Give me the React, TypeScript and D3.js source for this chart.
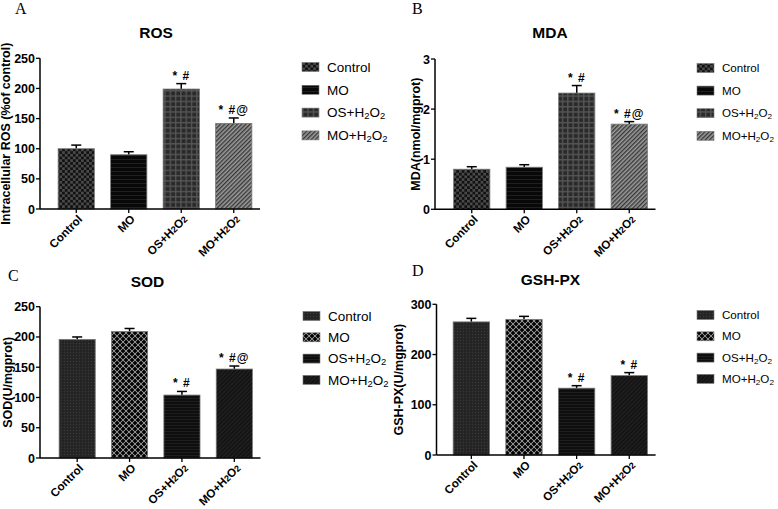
import React from "react";
import * as d3 from "d3";

const categories = ["Control", "MO", "OS+H2O2", "MO+H2O2"];

const rosValues = [100, 90, 199, 142];
const rosErrors = [6, 5, 9, 9];
const rosTicks = [0, 50, 100, 150, 200, 250];

const mdaValues = [0.8, 0.84, 2.32, 1.7];
const mdaErrors = [0.05, 0.05, 0.15, 0.05];
const mdaTicks = [0, 1, 2, 3];

const sodValues = [196, 209, 104, 147];
const sodErrors = [4, 5, 6, 5];
const sodTicks = [0, 50, 100, 150, 200, 250];

const gshValues = [265, 270, 133, 158];
const gshErrors = [7, 6, 5, 6];
const gshTicks = [0, 100, 200, 300];

const sigTop = ["", "", "* #", "* #@"];
const sigGsh = ["", "", "* #", "* #"];

const patternsTop = ["chk", "hlineA", "grid", "hatch"];
const patternsBottom = ["dots", "cross", "hlineB", "diagB"];

const SANS = "'Liberation Sans', Arial, sans-serif";

type Panel = {
  letter: string;
  title: string;
  ylabel: string;
  values: number[];
  errors: number[];
  ticks: number[];
  sig: string[];
  patterns: string[];
  axisX: number;
  xRange: [number, number];
  y0: number;
  yTop: number;
  titleX: number;
  titleY: number;
  letterX: number;
  letterY: number;
  ylabelX: number;
  legendX: number;
  legendY: number;
  legendStep: number;
  legendFont: number;
};

const panels: Panel[] = [
  {
    letter: "A", title: "ROS", ylabel: "Intracellular ROS (%of control)",
    values: rosValues, errors: rosErrors, ticks: rosTicks, sig: sigTop, patterns: patternsTop,
    axisX: 40, xRange: [50, 260], y0: 209, yTop: 58.3,
    titleX: 156, titleY: 38, letterX: 15, letterY: 14, ylabelX: 10,
    legendX: 302, legendY: 67, legendStep: 22.8, legendFont: 13.5,
  },
  {
    letter: "B", title: "MDA", ylabel: "MDA(nmol/mgprot)",
    values: mdaValues, errors: mdaErrors, ticks: mdaTicks, sig: sigTop, patterns: patternsTop,
    axisX: 435, xRange: [445.5, 655.5], y0: 209.3, yTop: 59,
    titleX: 550, titleY: 38, letterX: 412, letterY: 14, ylabelX: 420,
    legendX: 697, legendY: 68, legendStep: 22.6, legendFont: 11.6,
  },
  {
    letter: "C", title: "SOD", ylabel: "SOD(U/mgprot)",
    values: sodValues, errors: sodErrors, ticks: sodTicks, sig: sigTop, patterns: patternsBottom,
    axisX: 40, xRange: [51, 260.5], y0: 458, yTop: 306.7,
    titleX: 147.5, titleY: 287, letterX: 8, letterY: 281, ylabelX: 12,
    legendX: 303, legendY: 316, legendStep: 21.3, legendFont: 13.5,
  },
  {
    letter: "D", title: "GSH-PX", ylabel: "GSH-PX(U/mgprot)",
    values: gshValues, errors: gshErrors, ticks: gshTicks, sig: sigGsh, patterns: patternsBottom,
    axisX: 436.5, xRange: [445, 655.6], y0: 455, yTop: 304.3,
    titleX: 550.5, titleY: 285, letterX: 412, letterY: 276, ylabelX: 403,
    legendX: 697, legendY: 315, legendStep: 21.3, legendFont: 11.6,
  },
];

function CatLabel({ name, small }: { name: string; small: boolean }) {
  const m = name.match(/^(.*)\+H2O2$/);
  if (!m) return <>{name}</>;
  const sub = small ? { fontSize: "0.7em", baselineShift: "-25%" } : { fontSize: "0.78em" };
  return (
    <>
      {m[1]}+H
      <tspan style={sub as any}>2</tspan>
      O
      <tspan style={sub as any}>2</tspan>
    </>
  );
}

function PanelView({ p }: { p: Panel }) {
  const x = d3.scaleBand<string>().domain(categories).range(p.xRange).paddingInner(0.31).paddingOuter(0.155);
  const maxT = p.ticks[p.ticks.length - 1];
  const y = d3.scaleLinear().domain([0, maxT]).range([p.y0, p.yTop]);
  const bw = x.bandwidth();
  const fmt = (v: number) => String(v);
  return (
    <g>
      <text x={p.letterX} y={p.letterY} fontFamily="'Liberation Serif', serif" fontSize={16}>
        {p.letter}
      </text>
      <text x={p.titleX} y={p.titleY} textAnchor="middle" fontFamily={SANS} fontWeight="bold" fontSize={15.5}>
        {p.title}
      </text>
      <text
        transform={`translate(${p.ylabelX},${(p.y0 + p.yTop) / 2}) rotate(-90)`}
        textAnchor="middle"
        fontFamily={SANS}
        fontWeight="bold"
        fontSize={12.5}
      >
        {p.ylabel}
      </text>
      {categories.map((c, i) => {
        const bx = x(c)!;
        const top = y(p.values[i]);
        const ey = y(p.values[i] + p.errors[i]);
        const cx = bx + bw / 2;
        return (
          <g key={c}>
            <line x1={cx} x2={cx} y1={top} y2={ey} stroke="#000" strokeWidth={1.5} />
            <line x1={cx - 5} x2={cx + 5} y1={ey} y2={ey} stroke="#000" strokeWidth={1.5} />
            <rect x={bx} y={top} width={bw} height={p.y0 - top} fill={`url(#${p.patterns[i]})`} stroke="#777" strokeWidth={0.8} />
            {p.sig[i] && (
              <text x={cx} y={ey - 4} textAnchor="middle" fontFamily={SANS} fontWeight="bold" fontSize={12} letterSpacing={1}>
                {p.sig[i]}
              </text>
            )}
            <line x1={cx} x2={cx} y1={p.y0} y2={p.y0 + 4} stroke="#000" strokeWidth={1.3} />
            <text
              transform={`translate(${cx + 4},${p.y0 + 8}) rotate(-45)`}
              textAnchor="end"
              dy="0.35em"
              fontFamily={SANS}
              fontWeight="bold"
              fontSize={11.6}
            >
              <CatLabel name={c} small={false} />
            </text>
          </g>
        );
      })}
      <line x1={p.axisX} x2={p.axisX} y1={p.y0} y2={p.yTop} stroke="#000" strokeWidth={1.5} />
      <line x1={p.axisX} x2={p.xRange[1]} y1={p.y0} y2={p.y0} stroke="#000" strokeWidth={1.6} />
      {p.ticks.map((t) => (
        <g key={t}>
          <line x1={p.axisX - 4} x2={p.axisX} y1={y(t)} y2={y(t)} stroke="#000" strokeWidth={1.3} />
          <text x={p.axisX - 5} y={y(t)} dy="0.36em" textAnchor="end" fontFamily={SANS} fontWeight="bold" fontSize={12.5}>
            {fmt(t)}
          </text>
        </g>
      ))}
      {categories.map((c, i) => {
        const ly = p.legendY + i * p.legendStep;
        return (
          <g key={"lg" + c}>
            <rect x={p.legendX} y={ly - 4.5} width={17} height={9} fill={`url(#${p.patterns[i]})`} stroke="#777" strokeWidth={0.6} />
            <text x={p.legendX + 25} y={ly} dy="0.36em" fontFamily={SANS} fontSize={p.legendFont}>
              <CatLabel name={c} small={true} />
            </text>
          </g>
        );
      })}
    </g>
  );
}

function Defs() {
  return (
    <defs>
      <pattern id="chk" patternUnits="userSpaceOnUse" width={5.4} height={5.4}>
        <rect width={5.4} height={5.4} fill="#4a4a4a" />
        <rect x={0} y={0} width={2.7} height={2.7} fill="#111" />
        <rect x={2.7} y={2.7} width={2.7} height={2.7} fill="#111" />
      </pattern>
      <pattern id="hlineA" patternUnits="userSpaceOnUse" width={4} height={4}>
        <rect width={4} height={4} fill="#080808" />
        <line x1={0} x2={4} y1={3.5} y2={3.5} stroke="#262626" strokeWidth={0.8} />
      </pattern>
      <pattern id="grid" patternUnits="userSpaceOnUse" width={5.3} height={5.3}>
        <rect width={5.3} height={5.3} fill="#555" />
        <rect x={1.4} y={1.4} width={3.9} height={3.9} fill="#2a2a2a" />
      </pattern>
      <pattern id="hatch" patternUnits="userSpaceOnUse" width={3} height={3} patternTransform="rotate(45)">
        <rect width={3} height={3} fill="#9a9a9a" />
        <line x1={0.7} x2={0.7} y1={0} y2={3} stroke="#333" strokeWidth={1.3} />
      </pattern>
      <pattern id="dots" patternUnits="userSpaceOnUse" width={3} height={3}>
        <rect width={3} height={3} fill="#242424" />
        <circle cx={1.5} cy={1.5} r={0.7} fill="#3a3a3a" />
      </pattern>
      <pattern id="cross" patternUnits="userSpaceOnUse" width={6} height={6}>
        <rect width={6} height={6} fill="#8e8e8e" />
        {[
          [0, 0], [6, 0], [0, 6], [6, 6], [3, 3],
        ].map(([cx, cy], k) => (
          <g key={k}>
            <rect x={cx - 0.9} y={cy - 1.9} width={1.8} height={3.8} fill="#000" />
            <rect x={cx - 1.9} y={cy - 0.9} width={3.8} height={1.8} fill="#000" />
          </g>
        ))}
      </pattern>
      <pattern id="hlineB" patternUnits="userSpaceOnUse" width={3} height={3}>
        <rect width={3} height={3} fill="#0e0e0e" />
        <line x1={0} x2={3} y1={2.5} y2={2.5} stroke="#222" strokeWidth={0.8} />
      </pattern>
      <pattern id="diagB" patternUnits="userSpaceOnUse" width={3} height={3} patternTransform="rotate(45)">
        <rect width={3} height={3} fill="#121212" />
        <line x1={0.7} x2={0.7} y1={0} y2={3} stroke="#262626" strokeWidth={1} />
      </pattern>
    </defs>
  );
}

export default function App() {
  return (
    <div style={{ position: "absolute", left: 0, top: 0 }}>
      <svg width={778} height={509} style={{ display: "block", background: "#fff" }}>
        <Defs />
        {panels.map((p) => (
          <PanelView key={p.letter} p={p} />
        ))}
      </svg>
    </div>
  );
}
